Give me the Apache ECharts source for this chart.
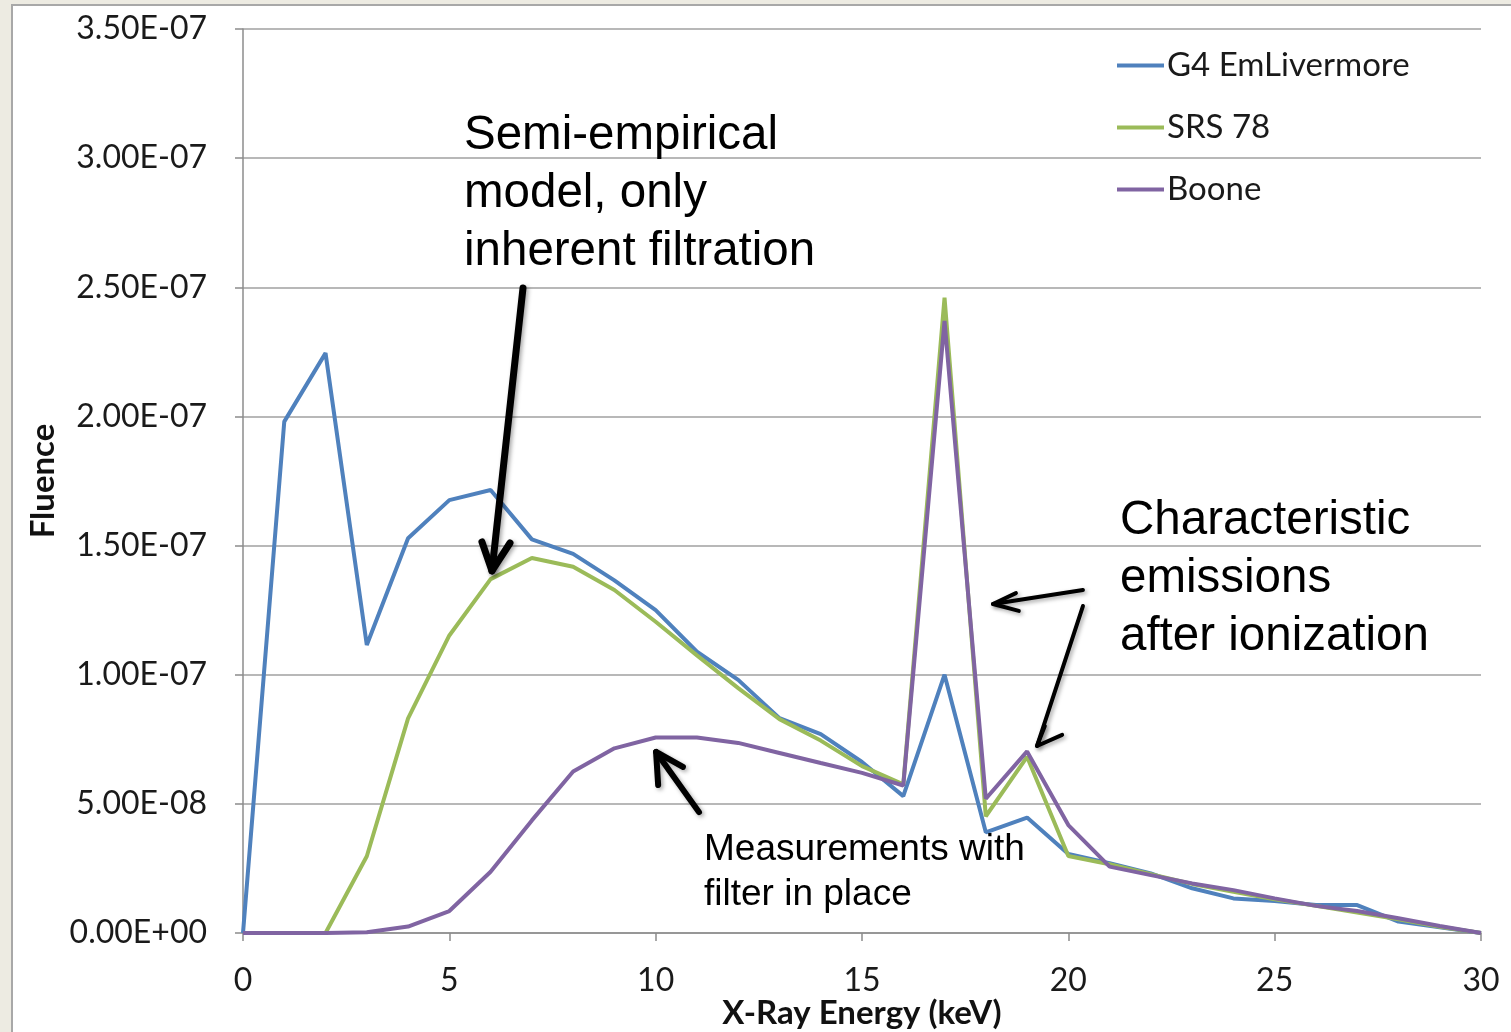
<!DOCTYPE html>
<html>
<head>
<meta charset="utf-8">
<script src="https://cdn.jsdelivr.net/npm/echarts@6/dist/echarts.min.js"></script>
<style>
  html, body { margin:0; padding:0; width:1511px; height:1032px; background:#EDEBE2; overflow:hidden; }
  #panel { position:absolute; left:11px; top:4px; width:1500px; height:1028px; background:#ffffff;
           border-left:2px solid #A8A8A8; border-top:2px solid #A8A8A8; box-sizing:border-box; }
  #chart { position:absolute; left:0; top:0; width:1511px; height:1032px; }
</style>
</head>
<body>
<div id="panel"></div>
<div id="chart"></div>
<script>
// X-ray energy (keV)
const energy = [0,1,2,3,4,5,6,7,8,9,10,11,12,13,14,15,16,17,18,19,20,21,22,23,24,25,26,27,28,29,30];

// Fluence values
const g4EmLivermore = [0, 1.98e-7, 2.245e-7, 1.115e-7, 1.528e-7, 1.676e-7, 1.715e-7, 1.524e-7, 1.468e-7, 1.365e-7,
  1.25e-7, 1.089e-7, 0.98e-7, 0.832e-7, 0.77e-7, 0.662e-7, 0.53e-7, 1.0e-7, 0.39e-7, 0.447e-7,
  0.306e-7, 0.27e-7, 0.231e-7, 0.173e-7, 0.134e-7, 0.124e-7, 0.108e-7, 0.108e-7, 0.044e-7, 0.022e-7, 0];

const srs78 = [0, 0, 0, 0.297e-7, 0.831e-7, 1.152e-7, 1.37e-7, 1.452e-7, 1.418e-7, 1.328e-7,
  1.205e-7, 1.075e-7, 0.948e-7, 0.828e-7, 0.745e-7, 0.646e-7, 0.576e-7, 2.46e-7, 0.452e-7, 0.682e-7,
  0.298e-7, 0.266e-7, 0.228e-7, 0.19e-7, 0.16e-7, 0.131e-7, 0.105e-7, 0.079e-7, 0.053e-7, 0.024e-7, 0];

const boone = [0, 0, 0, 0.003e-7, 0.025e-7, 0.085e-7, 0.237e-7, 0.436e-7, 0.625e-7, 0.715e-7,
  0.757e-7, 0.757e-7, 0.736e-7, 0.697e-7, 0.658e-7, 0.62e-7, 0.571e-7, 2.37e-7, 0.52e-7, 0.703e-7,
  0.418e-7, 0.257e-7, 0.224e-7, 0.192e-7, 0.166e-7, 0.134e-7, 0.105e-7, 0.085e-7, 0.057e-7, 0.027e-7, 0];

const seriesNames = ['G4 EmLivermore', 'SRS 78', 'Boone'];
const seriesColors = ['#4F81BD', '#9BBB59', '#8064A2'];

// annotation arrows (data coordinates): tail, tip, arm1, arm2, width
const arrows = [
  { tail:[6.785, 2.497e-7], tip:[6.033, 1.402e-7], a1:[5.79, 1.514e-7], a2:[6.47, 1.510e-7], w:7 },
  { tail:[20.354, 1.328e-7], tip:[18.173, 1.274e-7], a1:[18.80, 1.247e-7], a2:[18.73, 1.316e-7], w:4 },
  { tail:[20.354, 1.266e-7], tip:[19.24, 0.724e-7], a1:[19.43, 0.801e-7], a2:[19.85, 0.767e-7], w:4 },
  { tail:[11.05, 0.468e-7], tip:[10.01, 0.701e-7], a1:[10.06, 0.573e-7], a2:[10.66, 0.643e-7], w:6 }
];

function sci(v) {
  if (v === 0) return '0.00E+00';
  const e = Math.floor(Math.log10(Math.abs(v)) + 1e-9);
  const m = v / Math.pow(10, e);
  return m.toFixed(2) + 'E' + (e < 0 ? '-' : '+') + String(Math.abs(e)).padStart(2, '0');
}

const pairs = arr => energy.map((x, i) => [x, arr[i]]);
const font = 'Lato, "Open Sans", sans-serif';

const chart = echarts.init(document.getElementById('chart'), null, { renderer: 'canvas' });
chart.setOption({
  backgroundColor: 'transparent',
  animation: false,
  grid: { left: 243, right: 30, top: 29, bottom: 99, containLabel: false, outerBoundsMode: 'none' },
  legend: {
    orient: 'vertical', left: 1117, top: 49, padding: 0,
    icon: 'rect', itemWidth: 47, itemHeight: 4, itemGap: 29,
    textStyle: { fontFamily: font, fontSize: 33, color: '#1a1a1a', padding: [0, 0, 0, -2] },
    data: seriesNames
  },
  xAxis: {
    type: 'value', min: 0, max: 30, interval: 5,
    name: 'X-Ray Energy (keV)', nameLocation: 'middle', nameGap: 64, nameMoveOverlap: false,
    nameTextStyle: { fontFamily: font, fontSize: 33, fontWeight: 'bold', color: '#111' },
    axisLine: { show: true, lineStyle: { color: '#8C8C8C', width: 1.5 } },
    axisTick: { show: true, length: 8, lineStyle: { color: '#8C8C8C', width: 1.5 } },
    axisLabel: { fontFamily: font, fontSize: 32, color: '#1a1a1a', margin: 32 },
    splitLine: { show: false }
  },
  yAxis: {
    type: 'value', min: 0, max: 3.5e-7, interval: 0.5e-7,
    name: 'Fluence', nameLocation: 'middle', nameGap: 183, nameRotate: 90, nameMoveOverlap: false,
    nameTextStyle: { fontFamily: font, fontSize: 33, fontWeight: 'bold', color: '#111' },
    axisLine: { show: true, lineStyle: { color: '#8C8C8C', width: 1.5 } },
    axisTick: { show: true, length: 8, lineStyle: { color: '#8C8C8C', width: 1.5 } },
    axisLabel: { fontFamily: font, fontSize: 32, color: '#1a1a1a', margin: 36, formatter: sci },
    splitLine: { show: true, lineStyle: { color: '#A0A0A0', width: 1.5 } }
  },
  series: [
    { name: seriesNames[0], type: 'line', data: pairs(g4EmLivermore), symbol: 'none',
      lineStyle: { color: seriesColors[0], width: 4 }, itemStyle: { color: seriesColors[0] } },
    { name: seriesNames[1], type: 'line', data: pairs(srs78), symbol: 'none',
      lineStyle: { color: seriesColors[1], width: 4 }, itemStyle: { color: seriesColors[1] } },
    { name: seriesNames[2], type: 'line', data: pairs(boone), symbol: 'none',
      lineStyle: { color: seriesColors[2], width: 4 }, itemStyle: { color: seriesColors[2] } }
  ]
});

const px = p => chart.convertToPixel({ gridIndex: 0 }, p);
const graphics = [];
arrows.forEach(a => {
  const style = { stroke: '#000', lineWidth: a.w, lineCap: 'round', lineJoin: 'round', fill: null,
    shadowBlur: 4, shadowColor: 'rgba(0,0,0,0.35)', shadowOffsetX: 2, shadowOffsetY: 2 };
  graphics.push({ type: 'polyline', shape: { points: [px(a.tail), px(a.tip)] }, style: Object.assign({}, style), z: 100 });
  graphics.push({ type: 'polyline', shape: { points: [px(a.a1), px(a.tip), px(a.a2)] }, style: Object.assign({}, style), z: 100 });
});
const annFont = '"Liberation Sans", Arial, sans-serif';
graphics.push({ type: 'text', left: 464, top: 107, z: 101,
  style: { text: 'Semi-empirical\nmodel, only\ninherent filtration', font: '47.5px ' + annFont, lineHeight: 58, fill: '#000' } });
graphics.push({ type: 'text', left: 1120, top: 492, z: 101,
  style: { text: 'Characteristic\nemissions\nafter ionization', font: '47.5px ' + annFont, lineHeight: 58, fill: '#000' } });
graphics.push({ type: 'text', left: 704, top: 827, z: 101,
  style: { text: 'Measurements with\nfilter in place', font: '37px ' + annFont, lineHeight: 45, fill: '#000' } });
chart.setOption({ graphic: graphics });
</script>
</body>
</html>
